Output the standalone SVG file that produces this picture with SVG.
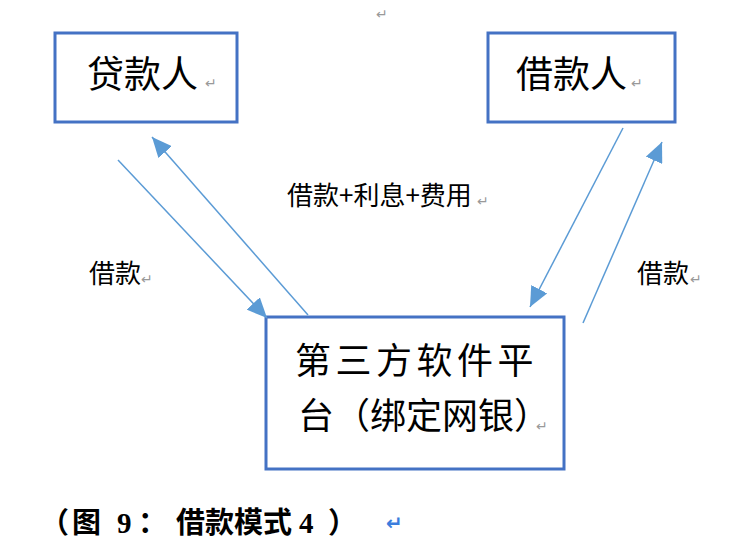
<svg xmlns="http://www.w3.org/2000/svg" width="736" height="560" viewBox="0 0 736 560">
<style>
.box{fill:#fff;stroke:#4472C4;stroke-width:3}
.t{font-family:"Noto Sans CJK SC","Liberation Sans",sans-serif;fill:#000}
.lbl{font-family:"Noto Sans CJK SC","Liberation Sans",sans-serif;font-size:26px;fill:#000}
.rm{font-family:"DejaVu Sans",sans-serif;font-size:14px;fill:#999}
.conn{stroke:#5B9BD5;stroke-width:1.5;fill:none;marker-end:url(#ah)}
</style>
<defs>
<marker id="ah" viewBox="0 0 20 18" refX="20" refY="9" markerWidth="20" markerHeight="18" markerUnits="userSpaceOnUse" orient="auto">
<path d="M0,0 L20,9 L0,18 z" fill="#5B9BD5"/>
</marker>
</defs>
<rect width="736" height="560" fill="#fff"/>
<text class="rm" x="376" y="19">↵</text>
<g id="lender">
<rect class="box" x="55" y="33" width="182" height="89"/>
<text class="t" x="87" y="88" font-size="37">贷款人</text>
<text class="rm" x="205" y="88">↵</text>
</g>
<g id="borrower">
<rect class="box" x="488" y="33" width="187" height="89"/>
<text class="t" x="516" y="88" font-size="37">借款人</text>
<text class="rm" x="631" y="88">↵</text>
</g>
<g id="platform">
<rect class="box" x="266" y="317" width="298" height="152"/>
<text class="t" x="295" y="374" font-size="36" letter-spacing="4.5">第三方软件平</text>
<text class="t" x="298" y="429" font-size="36">台（绑定网银）<tspan class="rm" dx="-14" dy="2">↵</tspan></text>
</g>
<g id="connectors">
<line class="conn" x1="118" y1="160" x2="267" y2="318"/>
<line class="conn" x1="308" y1="315" x2="152" y2="137"/>
<line class="conn" x1="623" y1="128" x2="530" y2="307"/>
<line class="conn" x1="583" y1="323" x2="662" y2="142"/>
</g>
<g id="labels">
<text class="lbl" x="287" y="205">借款+利息+费用</text>
<text class="rm" x="477" y="206">↵</text>
<text class="lbl" x="89" y="283">借款</text>
<text class="rm" x="141" y="284">↵</text>
<text class="lbl" x="637" y="283">借款</text>
<text class="rm" x="690" y="284">↵</text>
</g>
<g id="caption">
<text font-family="Liberation Serif,'Noto Sans CJK SC',serif" font-weight="bold" font-size="29" y="533" x="40 72 117 138 176 205 234 263 299 328">（图9：借款模式4）</text>
<text x="386" y="530" font-family="DejaVu Sans,sans-serif" font-size="20" font-weight="bold" fill="#3B7DDD">↵</text>
</g>
</svg>
